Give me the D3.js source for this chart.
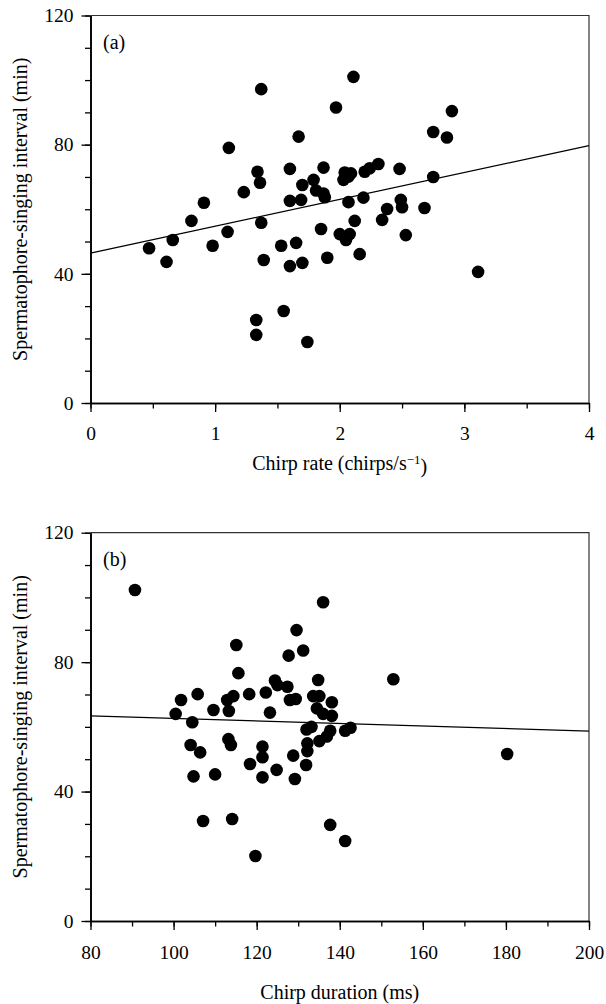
<!DOCTYPE html>
<html>
<head>
<meta charset="utf-8">
<script src="https://cdn.jsdelivr.net/npm/d3@7"></script>
<style>
  html, body { margin: 0; padding: 0; background: #fff; }
  svg { display: block; font-family: 'Liberation Serif', 'Times New Roman', serif; }
</style>
</head>
<body>
<svg id="chart" width="606" height="1004"></svg>
<script>
// panel (a): chirp rate vs spermatophore-singing interval
const rateX = [
  0.47, 0.61, 0.66, 0.81, 0.91, 0.98, 1.10, 1.11, 1.23, 1.33, 1.33, 1.34, 1.36, 1.37, 1.37, 1.39,
  1.53, 1.55, 1.60, 1.60, 1.60, 1.65, 1.67, 1.69, 1.70, 1.70, 1.74, 1.79, 1.81, 1.85, 1.87, 1.87,
  1.88, 1.90, 1.97, 2.00, 2.03, 2.04, 2.05, 2.07, 2.07, 2.08, 2.09, 2.11, 2.12, 2.16, 2.19, 2.20,
  2.24, 2.31, 2.34, 2.38, 2.48, 2.49, 2.50, 2.53, 2.68, 2.75, 2.75, 2.86, 2.90, 3.11
]
const rateY = [
  47.9, 43.7, 50.5, 56.4, 62.0, 48.7, 53.0, 79.0, 65.3, 25.7, 21.1, 71.6, 68.2, 55.8, 97.2, 44.3,
  48.7, 28.5, 72.5, 62.6, 42.4, 49.6, 82.5, 62.9, 67.5, 43.4, 18.9, 69.1, 65.8, 53.9, 72.9, 64.9,
  63.7, 45.0, 91.5, 52.3, 69.1, 71.4, 50.5, 70.1, 62.2, 52.3, 71.1, 101.0, 56.4, 46.1, 63.6, 71.6,
  72.7, 74.0, 56.7, 60.1, 72.5, 62.9, 60.6, 52.0, 60.4, 70.0, 83.9, 82.2, 90.4, 40.6
]
const rateFit = [46.4, 79.7] // fitted line at x = 0 and x = 4

// panel (b): chirp duration vs spermatophore-singing interval
const durationX = [
  90.7, 100.5, 101.8, 104.1, 104.5, 104.8, 105.8, 106.4, 107.1, 109.6, 110.0, 112.9, 113.2, 113.3, 113.8,
  114.1, 114.4, 115.1, 115.6, 118.2, 118.4, 119.7, 121.4, 121.4, 121.4, 122.2, 123.2, 124.4, 124.8, 125.0,
  127.4, 127.7, 128.0, 128.8, 129.2, 129.4, 129.6, 131.2, 131.9, 132.0, 132.2, 132.2, 133.2, 133.6, 134.5,
  134.8, 135.1, 135.1, 136.0, 136.0, 136.9, 137.7, 137.7, 138.1, 138.1, 141.3, 141.3, 142.6, 152.9, 180.3
]
const durationY = [
  102.3, 64.0, 68.3, 54.4, 61.4, 44.7, 70.1, 52.1, 30.9, 65.2, 45.3, 68.3, 56.2, 64.9, 54.4,
  31.5, 69.5, 85.3, 76.6, 70.1, 48.5, 20.1, 53.9, 50.6, 44.4, 70.6, 64.4, 74.3, 46.7, 72.9,
  72.4, 82.0, 68.3, 51.1, 43.9, 68.6, 89.9, 83.6, 48.2, 59.2, 54.9, 52.5, 60.0, 69.5, 65.7,
  74.5, 69.5, 55.6, 98.5, 64.0, 57.0, 58.8, 29.7, 67.6, 63.4, 58.8, 24.7, 59.7, 74.7, 51.6
]
const durationFit = [63.4, 58.7] // fitted line at x = 80 and x = 200

const intervalTicks = [0, 40, 80, 120]
const rateTicks = [0, 1, 2, 3, 4]
const durationTicks = [80, 100, 120, 140, 160, 180, 200]

const svg = d3.select('#chart')
const left = 90.5
const right = 589

drawPanel({
  top: 15.5,
  bottom: 403,
  xDomain: [0, 4],
  xMajor: rateTicks,
  xMinor: d3.range(0, 4.01, 0.5),
  xs: rateX,
  ys: rateY,
  fit: rateFit,
  tag: '(a)',
  labelPad: 14,
  titleBaseline: 67,
  title: text => {
    text.append('tspan').text('Chirp rate (chirps/s')
    text.append('tspan').attr('dy', '-0.45em').style('font-size', '13px').text('\u22121')
    text.append('tspan').attr('dy', '0.45em').text(')')
  }
})

drawPanel({
  top: 532.7,
  bottom: 921,
  xDomain: [80, 200],
  xMajor: durationTicks,
  xMinor: d3.range(80, 201, 10),
  xs: durationX,
  ys: durationY,
  fit: durationFit,
  tag: '(b)',
  labelPad: 15,
  titleBaseline: 78,
  title: text => text.text('Chirp duration (ms)')
})

function drawPanel (opts) {
  const x = d3.scaleLinear().domain(opts.xDomain).range([left, right])
  const y = d3.scaleLinear().domain([0, 120]).range([opts.bottom, opts.top])
  const g = svg.append('g')

  // frame: top and right edges are lighter than the axes
  g.append('path')
    .attr('d', `M${left},${opts.top}H${right}V${opts.bottom}`)
    .attr('fill', 'none')
    .attr('stroke', '#333')
    .attr('stroke-width', 1.2)

  // minor ticks first, then labelled major ticks on top
  g.append('g')
    .attr('transform', `translate(${left},0)`)
    .call(d3.axisLeft(y).tickValues(d3.range(0, 121, 10)).tickSize(5.5).tickSizeOuter(0).tickFormat(''))
  g.append('g')
    .attr('transform', `translate(${left},0)`)
    .call(d3.axisLeft(y).tickValues(intervalTicks).tickSize(9).tickSizeOuter(0).tickPadding(8).tickFormat(d3.format('d')))

  g.append('g')
    .attr('transform', `translate(0,${opts.bottom})`)
    .call(d3.axisBottom(x).tickValues(opts.xMinor).tickSize(5.5).tickSizeOuter(0).tickFormat(''))
  g.append('g')
    .attr('transform', `translate(0,${opts.bottom})`)
    .call(d3.axisBottom(x).tickValues(opts.xMajor).tickSize(9).tickSizeOuter(0).tickPadding(opts.labelPad).tickFormat(d3.format('d')))

  // d3 puts sans-serif on the axis groups, drop it so the page font applies
  g.selectAll('g').attr('font-family', null).attr('font-size', null)
  g.selectAll('.domain').attr('stroke', '#000').attr('stroke-width', 1.6)
  g.selectAll('.tick line').attr('stroke', '#000').attr('stroke-width', 1.3)
  g.selectAll('.tick text')
    .style('font-family', "'Liberation Serif', 'Times New Roman', serif")
    .style('font-size', '19.5px')
    .attr('fill', '#000')

  // regression line
  g.append('line')
    .attr('x1', x(opts.xDomain[0]))
    .attr('y1', y(opts.fit[0]))
    .attr('x2', x(opts.xDomain[1]))
    .attr('y2', y(opts.fit[1]))
    .attr('stroke', '#000')
    .attr('stroke-width', 1.2)

  g.append('g')
    .selectAll('circle')
    .data(d3.zip(opts.xs, opts.ys))
    .join('circle')
    .attr('cx', d => x(d[0]))
    .attr('cy', d => y(d[1]))
    .attr('r', 6.3)
    .attr('fill', '#000')

  g.append('text')
    .attr('x', 103)
    .attr('y', opts.top + 33)
    .style('font-size', '20px')
    .text(opts.tag)

  g.append('text')
    .attr('x', (left + right) / 2)
    .attr('y', opts.bottom + opts.titleBaseline)
    .attr('text-anchor', 'middle')
    .style('font-size', '20px')
    .call(opts.title)

  g.append('text')
    .attr('transform', `translate(27,${(opts.top + opts.bottom) / 2}) rotate(-90)`)
    .attr('text-anchor', 'middle')
    .style('font-size', '20px')
    .text('Spermatophore-singing interval (min)')
}
</script>
</body>
</html>
